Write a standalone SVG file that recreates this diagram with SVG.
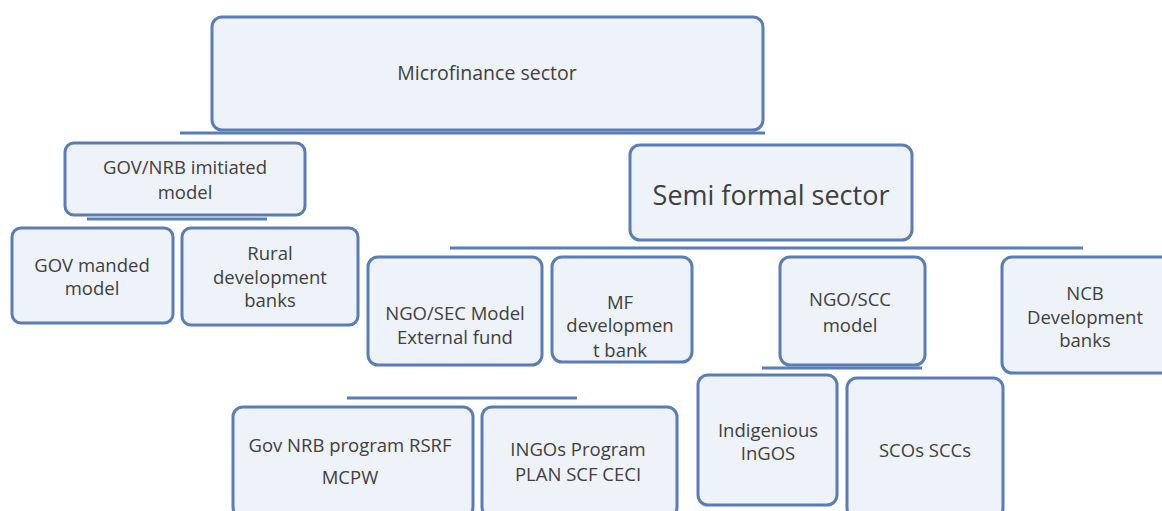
<svg xmlns="http://www.w3.org/2000/svg" width="1162" height="511" viewBox="0 0 1162 511">
<style>
.box{fill:#eef2f9;stroke:#5a7db8;stroke-width:3}
.t{font-family:"Open Sans","Liberation Sans",sans-serif;font-size:18.5px;fill:#404040;text-anchor:middle}
.sm{font-size:19.5px}
.big{font-size:27px}
.c{stroke:#5a7db8;stroke-width:3;fill:none}
</style>
<rect width="1162" height="511" fill="#ffffff"/>
<g id="connectors">
<line class="c" x1="180" y1="133" x2="765" y2="133"/>
<line class="c" x1="87" y1="219" x2="267" y2="219"/>
<line class="c" x1="450" y1="248" x2="1083" y2="248"/>
<line class="c" x1="347" y1="398" x2="577" y2="398"/>
<line class="c" x1="762" y1="368" x2="922" y2="368"/>
</g>
<g id="n-micro"><rect class="box" x="212" y="17" width="551" height="113" rx="10"/><text class="t sm" x="487" y="80">Microfinance sector</text></g>
<g id="n-govnrb"><rect class="box" x="65" y="143" width="240" height="72" rx="9"/><text class="t" x="185" y="174">GOV/NRB imitiated</text><text class="t" x="185" y="199">model</text></g>
<g id="n-govmanded"><rect class="box" x="12" y="228" width="161" height="95" rx="9"/><text class="t" x="92" y="272">GOV manded</text><text class="t" x="92" y="295">model</text></g>
<g id="n-rural"><rect class="box" x="182" y="228" width="176" height="97" rx="9"/><text class="t" x="270" y="260">Rural</text><text class="t" x="270" y="284">development</text><text class="t" x="270" y="307">banks</text></g>
<g id="n-semi"><rect class="box" x="630" y="145" width="282" height="95" rx="10"/><text class="t big" x="771" y="205">Semi formal sector</text></g>
<g id="n-ngosec"><rect class="box" x="368" y="257" width="174" height="108" rx="10"/><text class="t" x="455" y="320">NGO/SEC Model</text><text class="t" x="455" y="344">External fund</text></g>
<g id="n-mf"><rect class="box" x="552" y="257" width="140" height="105" rx="10"/><text class="t" x="620" y="309">MF</text><text class="t" x="620" y="332">developmen</text><text class="t" x="620" y="357">t bank</text></g>
<g id="n-ngoscc"><rect class="box" x="780" y="257" width="145" height="108" rx="10"/><text class="t" x="850" y="306">NGO/SCC</text><text class="t" x="850" y="332">model</text></g>
<g id="n-ncb"><rect class="box" x="1002" y="257" width="175" height="116" rx="10"/><text class="t" x="1085" y="300">NCB</text><text class="t" x="1085" y="324">Development</text><text class="t" x="1085" y="347">banks</text></g>
<g id="n-gov-prog"><rect class="box" x="233" y="407" width="240" height="110" rx="10"/><text class="t" x="350" y="452">Gov NRB program RSRF</text><text class="t" x="350" y="484">MCPW</text></g>
<g id="n-ingo"><rect class="box" x="482" y="407" width="195" height="110" rx="10"/><text class="t" x="578" y="456">INGOs Program</text><text class="t" x="578" y="481">PLAN SCF CECI</text></g>
<g id="n-indig"><rect class="box" x="698" y="375" width="139" height="130" rx="10"/><text class="t" x="768" y="437">Indigenious</text><text class="t" x="768" y="460">InGOS</text></g>
<g id="n-scos"><rect class="box" x="847" y="378" width="156" height="140" rx="10"/><text class="t" x="925" y="457">SCOs SCCs</text></g>
</svg>
